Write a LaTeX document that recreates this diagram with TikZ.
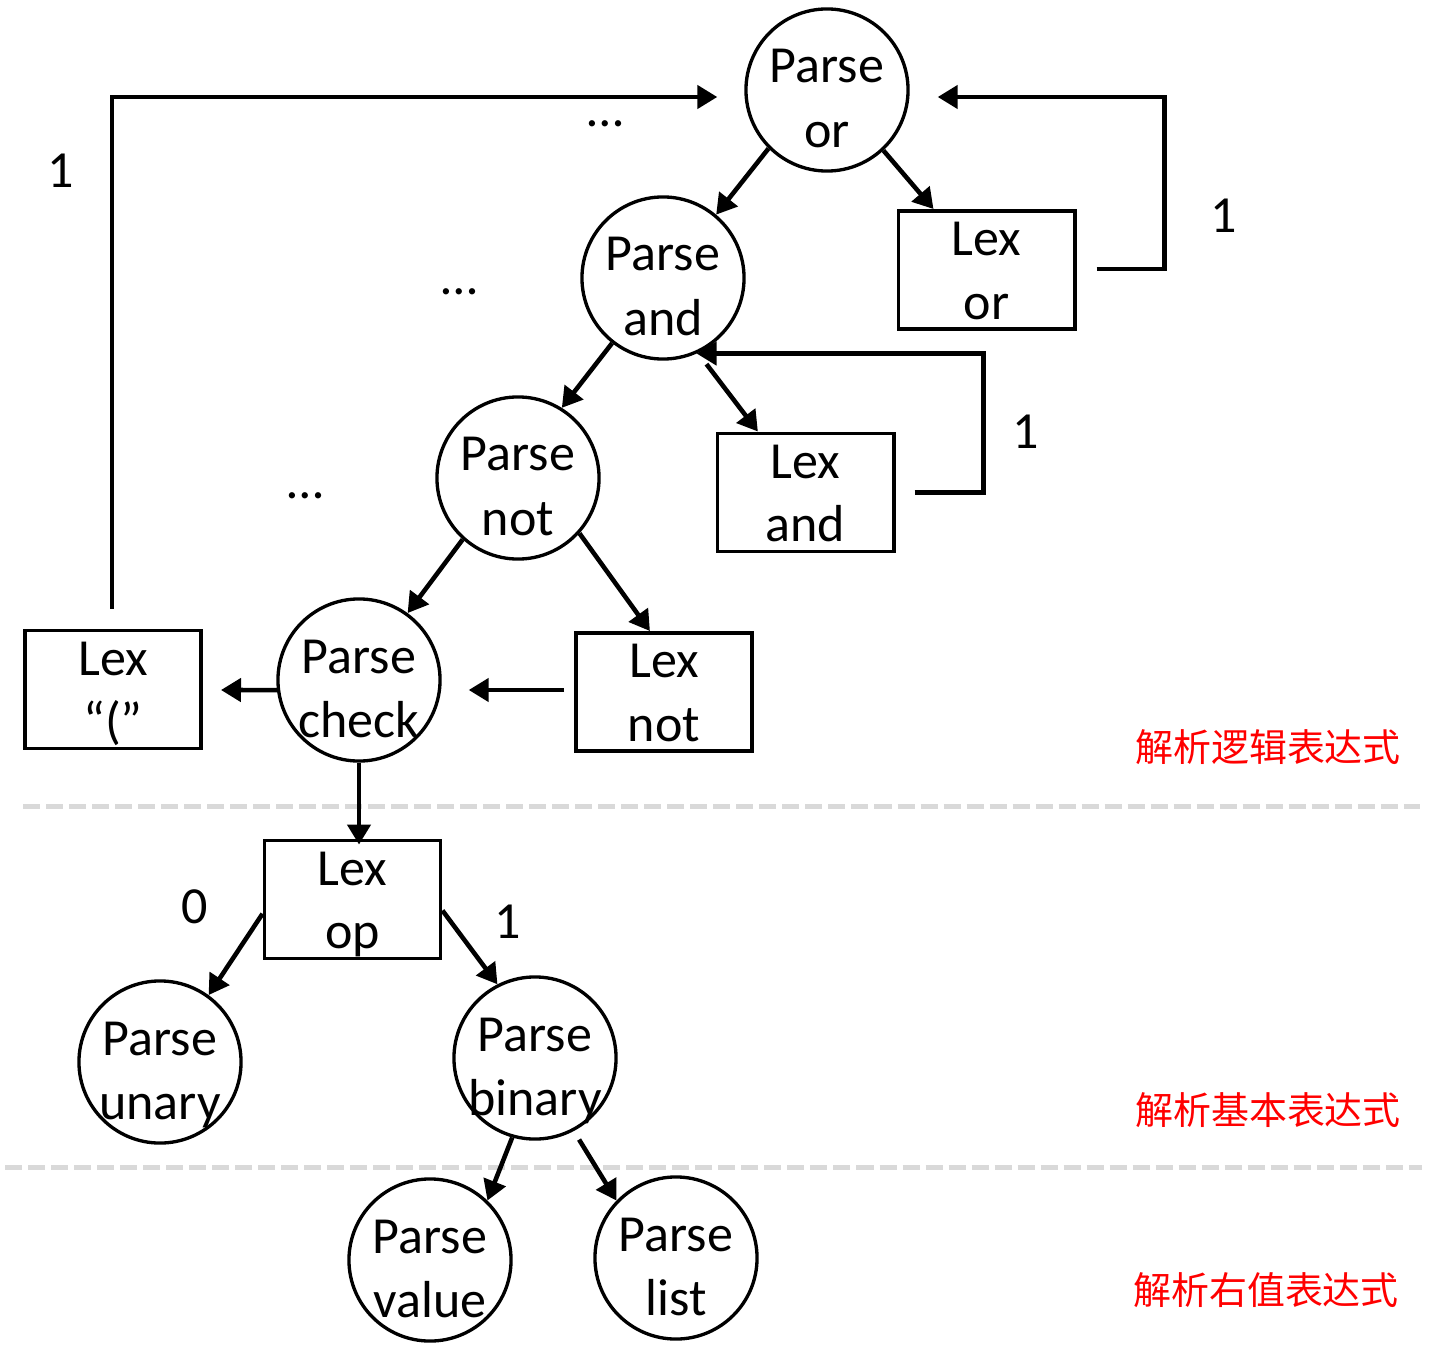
\documentclass[tikz,border=0pt]{standalone}
\usepackage{fontspec}
\setmainfont{Carlito}
\newfontfamily\cjk{Noto Sans CJK SC}
\usetikzlibrary{arrows.meta,calc}
\definecolor{sepgray}{HTML}{D9D9D9}
% two lines in a zero-size box: first baseline #3 above centre, second #4 below
\newcommand\twoln[4]{\makebox[0pt][c]{\smash{\raisebox{#3}{#1}}}\makebox[0pt][c]{\smash{\raisebox{-#4}{#2}}}}
\newcommand\cl[2]{\twoln{#1}{#2}{0.07cm}{0.57cm}}
\newcommand\bl[2]{\twoln{#1}{#2}{0.14cm}{0.49cm}}
\tikzset{
  pcirc/.style={circle, draw, line width=0.95pt, minimum size=1.62cm, inner sep=0pt, font=\fontsize{14.8}{17.9}\selectfont},
  lbox/.style={rectangle, draw, line width=1.1pt, minimum width=1.76cm, minimum height=1.18cm, inner sep=0pt, font=\fontsize{14.8}{17.9}\selectfont},
  arr/.style={line width=1.3pt, -{Triangle[length=0.2cm,width=0.23cm]}},
  lbl/.style={font=\fontsize{14.8}{17.9}\selectfont, inner sep=0pt},
  redlbl/.style={font=\cjk\fontsize{10.8}{13}\selectfont, text=red, inner sep=0pt},
  sepline/.style={draw=sepgray, line width=1.42pt, dash pattern=on 0.17cm off 0.06cm}
}
\begin{document}
\begin{tikzpicture}[x=0.01cm, y=-0.01cm]
\useasboundingbox (0,0) rectangle (1452,1352);
% separators
\coordinate (s1a) at (23,806); \coordinate (s1b) at (1420,806);
\coordinate (s2a) at (5,1167); \coordinate (s2b) at (1422,1167);
\draw[sepline] (s1a) -- (s1b);
\draw[sepline] (s2a) -- (s2b);
% circles
\node[pcirc] (por) at (827,90) {\cl{Parse}{or}};
\node[pcirc] (pand) at (663,278) {\cl{Parse}{and}};
\node[pcirc] (pnot) at (518,478) {\cl{Parse}{not}};
\node[pcirc] (pcheck) at (359,680) {\cl{Parse}{check}};
\node[pcirc] (punary) at (160,1062) {\cl{Parse}{unary}};
\node[pcirc] (pbin) at (535,1058) {\cl{Parse}{binary}};
\node[pcirc] (pval) at (430,1260) {\cl{Parse}{value}};
\node[pcirc] (plist) at (676,1258) {\cl{Parse}{list}};
% boxes
\node[lbox] (lor) at (986.5,270) {\bl{Lex}{or}};
\node[lbox] (land) at (805.5,492.5) {\bl{Lex}{and}};
\node[lbox] (lnot) at (664,692) {\bl{Lex}{not}};
\node[lbox] (lparen) at (113,689.5) {\bl{Lex}{“(”}};
\node[lbox] (lop) at (352.5,899.5) {\bl{Lex}{op}};
% connectors
\draw[arr] (por.225) -- (pand.50);
\draw[arr] (por.-47) -- (lor.131);
\draw[arr] ($(lor.east)+(20,-1)$) -- ++(68,0) |- ($(por.east)+(28,7)$);
\draw[arr] (pand.232) -- (pnot.58);
\draw[arr, shorten <=0.14cm] (pand.-65) -- (land.128);
\draw[arr] ($(land.east)+(19,0)$) -- ++(69,0) |- (pand.-66);
\draw[arr] (pnot.228) -- (pcheck.54);
\draw[arr] (pnot.-42) -- (lnot.103);
\draw[arr] ($(lnot.west)+(-10,-2)$) -- ($(pcheck.east)+(27,10)$);
\draw[arr] (pcheck.187) -- ($(lparen.east)+(18,0.5)$);
\draw[arr] ($(lparen.north)+(-1,-20)$) |- ($(por.west)+(-27,7)$);
\draw[arr] (pcheck.south) -- ($(pcheck.south |- lop.north)+(0,6)$);
\draw[arr] (lop.189) -- (punary.54);
\draw[arr] (lop.-7) -- (pbin.117);
\draw[arr] (pbin.-106) -- (pval.46);
\draw[arr, shorten <=0.1cm] (pbin.-62) -- (plist.136);
% labels
\node[lbl] (n1) at (61,171) {1};
\node[lbl] (d1) at (605,124) {…};
\node[lbl] (d2) at (459,292) {…};
\node[lbl] (d3) at (305,496) {…};
\node[lbl] (n2) at (1224,216) {1};
\node[lbl] (n3) at (1026,432) {1};
\node[lbl] (n4) at (195,907) {0};
\node[lbl] (n5) at (508,922) {1};
\node[redlbl] (r1) at (1268,747) {解析逻辑表达式};
\node[redlbl] (r2) at (1268,1110) {解析基本表达式};
\node[redlbl] (r3) at (1266,1290) {解析右值表达式};
\end{tikzpicture}
\end{document}
